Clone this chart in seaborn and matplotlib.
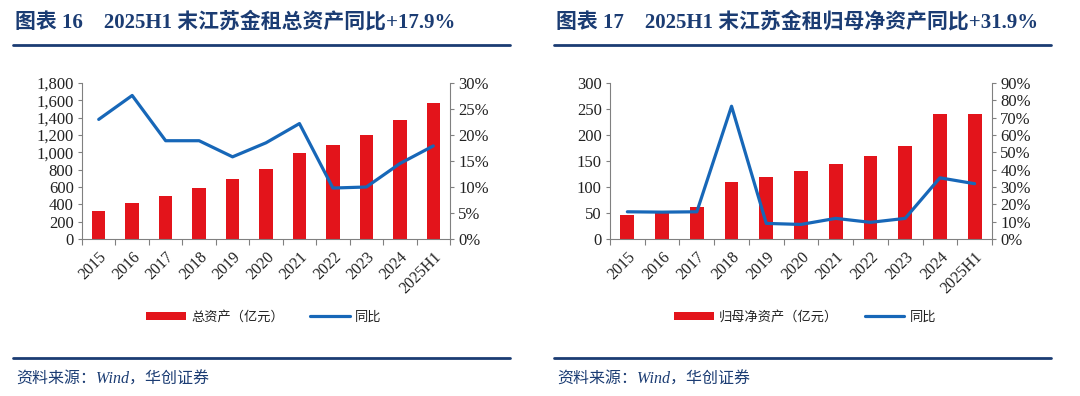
import matplotlib
matplotlib.use('Agg')
import matplotlib.pyplot as plt
from matplotlib.lines import Line2D
from matplotlib.ticker import FuncFormatter, MultipleLocator
import numpy as np
import seaborn as sns

YEARS = ['2015', '2016', '2017', '2018', '2019', '2020',
         '2021', '2022', '2023', '2024', '2025H1']

# 图表16: 总资产(亿元) 与同比(%)
TOTAL_ASSETS = [326, 418, 495, 591, 687, 813, 994, 1090, 1197, 1374, 1569]
TOTAL_ASSETS_YOY = [23.0, 27.6, 18.9, 18.9, 15.8, 18.5, 22.2, 9.8, 10.0, 14.5, 17.9]

# 图表17: 归母净资产(亿元) 与同比(%)
NET_ASSETS = [46, 52, 62, 110, 120, 130, 145, 160, 178, 241, 241]
NET_ASSETS_YOY = [15.7, 15.5, 15.7, 76.6, 9.0, 8.4, 11.9, 9.6, 11.9, 35.3, 31.9]

RED = '#E3141B'
BLUE = '#1767B8'
NAVY = '#1B3C73'
GREY = '#808080'
TEXT = '#222222'

sns.set_theme(style='white')
plt.rcParams['font.family'] = ['Liberation Serif', 'Noto Sans CJK SC']
plt.rcParams['axes.unicode_minus'] = False

W, H = 1080, 396


def fx(px):
    return px / W


def fy(py):
    return 1 - py / H


def draw_panel(fig, rect, bars, growth, bar_label, ymax, ystep, pmax, pstep, thousands):
    ax = fig.add_axes(rect)
    sns.barplot(x=YEARS, y=bars, color=RED, saturation=1, width=0.4,
                ax=ax, label=bar_label, linewidth=0)
    ax2 = ax.twinx()
    sns.lineplot(x=YEARS, y=growth, color=BLUE, linewidth=2.3,
                 ax=ax2, label='同比', sort=False)
    for a in (ax, ax2):
        if a.get_legend() is not None:
            a.get_legend().remove()
        a.set_xlabel('')
        a.set_ylabel('')

    n = len(YEARS)
    ax.set_xlim(-0.5, n - 0.5)
    ax.set_ylim(0, ymax)
    ax2.set_ylim(0, pmax)
    ax.yaxis.set_major_locator(MultipleLocator(ystep))
    ax2.yaxis.set_major_locator(MultipleLocator(pstep))
    if thousands:
        ax.yaxis.set_major_formatter(FuncFormatter(lambda v, p: f'{v:,.0f}'))
    else:
        ax.yaxis.set_major_formatter(FuncFormatter(lambda v, p: f'{v:.0f}'))
    ax2.yaxis.set_major_formatter(FuncFormatter(lambda v, p: f'{v:.0f}%'))

    ax.set_xticks(np.arange(n))
    ax.set_xticklabels(YEARS, rotation=45, ha='right', va='top',
                       rotation_mode='anchor', fontsize=11.5, color=TEXT)
    ax.set_xticks(np.arange(n + 1) - 0.5, minor=True)
    ax.tick_params(axis='x', which='major', length=0, pad=7)
    ax.tick_params(axis='x', which='minor', length=4, width=0.8,
                   color=GREY, direction='out', bottom=True)
    ax.tick_params(axis='y', length=3, width=0.8, color=GREY,
                   direction='out', labelsize=12, labelcolor=TEXT, pad=3, left=True)
    ax2.tick_params(axis='y', length=3, width=0.8, color=GREY,
                    direction='out', labelsize=12, labelcolor=TEXT, pad=3, right=True)

    for a in (ax, ax2):
        a.spines['top'].set_visible(False)
        for s in ('left', 'right', 'bottom'):
            a.spines[s].set_color(GREY)
            a.spines[s].set_linewidth(0.8)
        a.grid(False)
    ax.spines['right'].set_visible(False)
    ax2.spines['left'].set_visible(False)
    ax2.spines['bottom'].set_visible(False)

    handles, labels = ax.get_legend_handles_labels()
    h2, l2 = ax2.get_legend_handles_labels()
    return ax, ax2, handles + h2, labels + l2


fig = plt.figure(figsize=(W / 100, H / 100), dpi=100)
fig.patch.set_facecolor('white')

panels = [
    dict(x0=13, x1=510, title='图表 16    2025H1 末江苏金租总资产同比+17.9%',
         plot=(82, 450), bars=TOTAL_ASSETS, growth=TOTAL_ASSETS_YOY,
         label='总资产（亿元）', ymax=1800, ystep=200, pmax=30, pstep=5,
         thousands=True, legend_x=264),
    dict(x0=554, x1=1051, title='图表 17    2025H1 末江苏金租归母净资产同比+31.9%',
         plot=(610, 992), bars=NET_ASSETS, growth=NET_ASSETS_YOY,
         label='归母净资产（亿元）', ymax=300, ystep=50, pmax=90, pstep=10,
         thousands=False, legend_x=805),
]

for p in panels:
    left, right = p['plot']
    rect = [fx(left), fy(239), fx(right - left), (239 - 83) / H]
    ax, ax2, handles, labels = draw_panel(
        fig, rect, p['bars'], p['growth'], p['label'],
        p['ymax'], p['ystep'], p['pmax'], p['pstep'], p['thousands'])

    fig.text(fx(p['x0'] + 2), fy(22), p['title'], fontsize=15,
             fontweight='bold', color=NAVY, va='center', ha='left')
    fig.add_artist(Line2D([fx(p['x0']), fx(p['x1'])], [fy(45), fy(45)],
                          color=NAVY, linewidth=2))
    fig.add_artist(Line2D([fx(p['x0']), fx(p['x1'])], [fy(358), fy(358)],
                          color=NAVY, linewidth=2))
    fig.text(fx(p['x0'] + 3), fy(380), '资料来源：Wind，华创证券', fontsize=11.5,
             style='italic', color=NAVY, va='center', ha='left')

    leg = fig.legend(handles, labels, loc='center', ncol=2,
                     bbox_to_anchor=(fx(p['legend_x']), fy(317)),
                     frameon=False, fontsize=9.5, handlelength=3,
                     handleheight=0.55, handletextpad=0.4, columnspacing=2.0,
                     labelcolor=TEXT)

fig.savefig('out.png', dpi=100, facecolor='white')
